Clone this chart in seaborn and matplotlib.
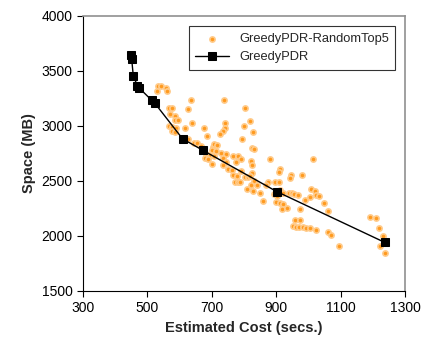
import matplotlib
matplotlib.use("Agg")
import matplotlib.pyplot as plt
import seaborn as sns
import pandas as pd

# GreedyPDR-RandomTop5 (estimated cost in secs, space in MB)
random_cost = [532, 542, 557, 529, 562, 636, 737, 567, 577, 627, 802, 569, 584, 586, 594,
               638, 742, 818, 801, 567, 577, 590, 617, 677, 740, 735, 575, 585, 724, 828,
               686, 626, 795, 643, 655, 666, 702, 708, 715, 826, 831, 700, 713, 728, 683,
               693, 706, 744, 765, 780, 791, 678, 688, 736, 745, 774, 821, 824, 700, 733,
               879, 1015, 751, 763, 790, 911, 907, 826, 766, 779, 802, 811, 818, 772, 780,
               787, 831, 946, 941, 979, 873, 868, 897, 907, 839, 820, 810, 828, 848, 858,
               894, 902, 910, 921, 938, 948, 954, 967, 900, 910, 921, 917, 934, 973, 988,
               1004, 1008, 1019, 1024, 1033, 1047, 1062, 957, 975, 952, 961, 971, 982, 992,
               1004, 1023, 1059, 1069, 1094, 1192, 1209, 1220, 1230, 1223, 1237]
random_space = [3364, 3364, 3342, 3315, 3315, 3236, 3236, 3158, 3158, 3155, 3158, 3106, 3088,
                3052, 3049, 3030, 3030, 3043, 3000, 3000, 2991, 2985, 2976, 2979, 2982, 2955,
                2955, 2943, 2930, 2940, 2912, 2885, 2885, 2843, 2840, 2821, 2812, 2836, 2824,
                2800, 2791, 2779, 2767, 2752, 2740, 2737, 2727, 2746, 2724, 2724, 2700, 2709,
                2703, 2706, 2667, 2670, 2676, 2646, 2652, 2640, 2697, 2700, 2609, 2597, 2594,
                2612, 2585, 2567, 2549, 2546, 2537, 2534, 2546, 2494, 2485, 2488, 2503, 2549,
                2530, 2549, 2491, 2461, 2494, 2491, 2464, 2461, 2430, 2409, 2388, 2321, 2379,
                2358, 2418, 2394, 2388, 2388, 2376, 2370, 2312, 2300, 2285, 2246, 2252, 2246,
                2324, 2349, 2424, 2409, 2373, 2361, 2303, 2224, 2146, 2143, 2088, 2079, 2079,
                2076, 2073, 2073, 2055, 2034, 2009, 1909, 2170, 2164, 2070, 2003, 1909, 1846]

# GreedyPDR
greedy_cost = [448, 451, 456, 469, 475, 513, 522, 609, 673, 901, 1237]
greedy_space = [3645, 3606, 3452, 3364, 3342, 3233, 3209, 2882, 2776, 2403, 1940]

x_ticks = [300, 500, 700, 900, 1100, 1300]
y_ticks = [1500, 2000, 2500, 3000, 3500, 4000]

sns.set_style("white")
plt.rcParams['font.family'] = ['Liberation Sans', 'DejaVu Sans']

df_r = pd.DataFrame({"cost": random_cost, "space": random_space})
df_g = pd.DataFrame({"cost": greedy_cost, "space": greedy_space})

fig = plt.figure(figsize=(4.26, 3.45), dpi=100)
ax = fig.add_axes([0.195, 0.157, 0.756, 0.797])

sns.scatterplot(data=df_r, x="cost", y="space", ax=ax, marker="o", s=14,
                color="#FF9A1F", edgecolor="#FFCB8A", linewidth=1.2,
                label="GreedyPDR-RandomTop5", zorder=2)
sns.lineplot(data=df_g, x="cost", y="space", ax=ax, sort=False, color="black",
             linewidth=1, marker="s", markersize=6, markeredgecolor="black",
             label="GreedyPDR", zorder=3)

ax.set_xlim(300, 1300)
ax.set_ylim(1500, 4000)
ax.set_xticks(x_ticks)
ax.set_yticks(y_ticks)
ax.tick_params(axis="both", direction="out", length=4, width=0.8, labelsize=10,
               colors="black", bottom=True, left=True)
ax.set_xlabel("Estimated Cost (secs.)", fontsize=10.5, fontweight="bold")
ax.set_ylabel("Space (MB)", fontsize=10.5, fontweight="bold")

for side in ["left", "bottom"]:
    ax.spines[side].set_color("black")
    ax.spines[side].set_linewidth(0.8)
for side in ["top", "right"]:
    ax.spines[side].set_color("#909090")
    ax.spines[side].set_linewidth(1.2)

leg = ax.legend(loc="upper right", fontsize=9.3, frameon=True, fancybox=False,
                edgecolor="black", borderpad=0.5, handlelength=2.6,
                bbox_to_anchor=(0.99, 0.985))
leg.get_frame().set_linewidth(0.8)

fig.savefig("out.png", dpi=100)
